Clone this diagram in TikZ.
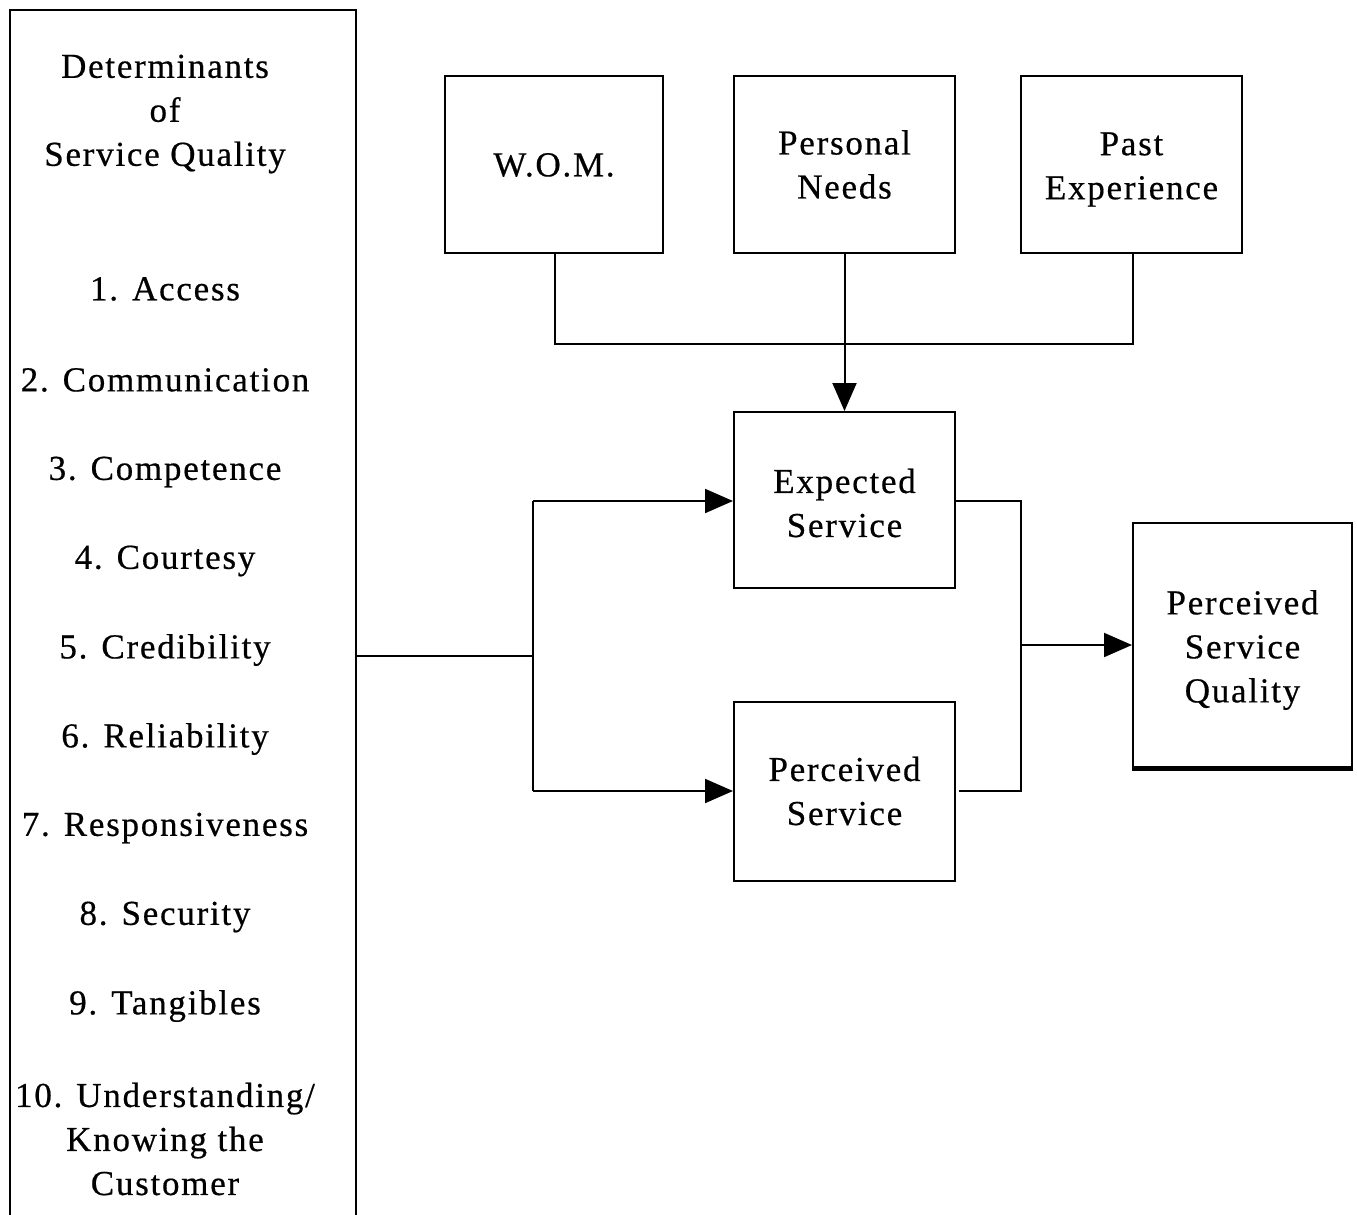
\documentclass[tikz,border=0pt]{standalone}
\usepackage{fontspec}
\setmainfont{Liberation Serif}[LetterSpace=5,FakeBold=0.5]
\usetikzlibrary{arrows.meta}
\begin{document}
\begin{tikzpicture}[x=1pt,y=-1pt,
  ln/.style={line width=2pt, black},
  box/.style={draw, line width=2pt, inner sep=0pt},
  txt/.style={align=center, inner sep=0pt, font=\fontsize{35}{44}\selectfont},
  arr/.style={ln, -{Triangle[length=28pt,width=24pt]}}]
\useasboundingbox (0,0) rectangle (1357,1215);
\clip (0,0) rectangle (1357,1215);
\fill[white] (0,0) rectangle (1357,1215);
% left box
\node[box, anchor=north west, minimum width=346pt, minimum height=1240pt] (det) at (9,9) {};
\node[txt] (t0) at (165,114) {Determinants\\of\\Service Quality};
\node[txt] (t1) at (165,289) {1. Access};
\node[txt] (t2) at (165,380) {2. Communication};
\node[txt] (t3) at (165,472) {3. Competence};
\node[txt] (t4) at (165,561) {4. Courtesy};
\node[txt] (t5) at (165,650) {5. Credibility};
\node[txt] (t6) at (165,739) {6. Reliability};
\node[txt] (t7) at (165,828) {7. Responsiveness};
\node[txt] (t8) at (165,917) {8. Security};
\node[txt] (t9) at (165,1006) {9. Tangibles};
\node[txt] (t10) at (165,1139) {10. Understanding/\\Knowing the\\Customer};
% top boxes
\node[box, minimum width=218pt, minimum height=177pt] (wom) at (554,164.5) {};
\node[txt] (womt) at (554,165) {W.O.M.};
\node[box, minimum width=221pt, minimum height=177pt] (pn) at (844.5,164.5) {};
\node[txt] (pnt) at (844.5,164.5) {Personal\\Needs};
\node[box, minimum width=221pt, minimum height=177pt] (pe) at (1131.5,164.5) {};
\node[txt] (pet) at (1131.5,169.5) {Past\\Experience};
% middle boxes
\node[box, minimum width=221pt, minimum height=176pt] (es) at (844.5,500) {};
\node[txt] (est) at (844.5,503) {Expected\\Service};
\node[box, minimum width=221pt, minimum height=179pt] (ps) at (844.5,791.5) {};
\node[txt] (pst) at (844.5,791) {Perceived\\Service};
\node[box, minimum width=219pt, minimum height=244pt] (psq) at (1242.5,645) {};
\node[txt] (psqt) at (1242.5,650) {Perceived\\Service\\Quality};
\draw[line width=4pt] ([yshift=-1pt]psq.south west) -- ([yshift=-1pt]psq.south east);
% connectors top
\coordinate (jw) at (555,344);
\coordinate (jp) at (1133,344);
\draw[ln] (wom.south -| jw) -- (jw) -- (jp) -- (pe.south -| jp);
\draw[arr] (pn.south) -- (es.north);
% left connectors
\coordinate (j1) at (533,656);
\coordinate (j1t) at (533,501);
\coordinate (j1b) at (533,791);
\draw[ln] (det.east |- j1) -- (j1);
\draw[ln] (j1t) -- (j1b);
\draw[arr] (j1t) -- (es.west |- j1t);
\draw[arr] (j1b) -- (ps.west |- j1b);
% right connectors
\coordinate (j2t) at (1021,501);
\coordinate (j2b) at (1021,791);
\coordinate (j2) at (1021,645);
\draw[ln] (es.east |- j2t) -- (j2t) -- (j2b) -- ([xshift=3pt]ps.east |- j2b);
\draw[arr] (j2) -- (psq.west |- j2);
\end{tikzpicture}
\end{document}
